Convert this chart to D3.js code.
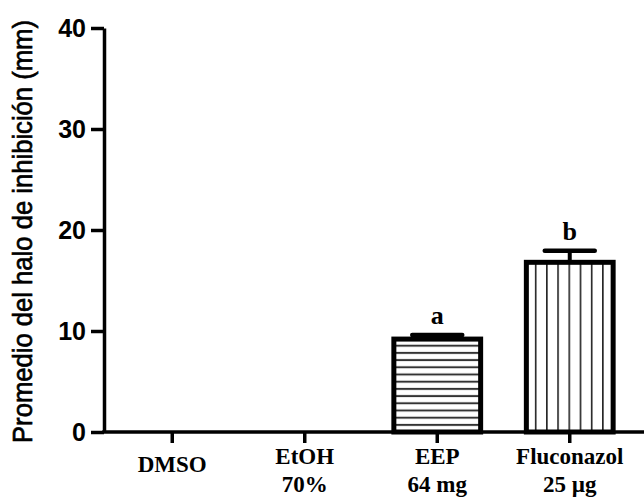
<!DOCTYPE html>
<html>
<head>
<meta charset="utf-8">
<script src="https://cdn.jsdelivr.net/npm/d3@7"></script>
<style>
  body { margin: 0; background: #fff; }
  svg { display: block; }
</style>
</head>
<body>
<div id="chart"></div>
<script>
// data
const categories = ["DMSO", "EtOH", "EEP", "Fluconazol"];
const catLine2   = ["", "70%", "64 mg", "25 µg"];
const means      = [0, 0, 9.2, 16.8];
const errors     = [0, 0, 0.4, 1.15];
const letters    = ["", "", "a", "b"];
const fills      = ["none", "none", "hlines", "vlines"];
const yTicks     = [0, 10, 20, 30, 40];
const yTitle     = "Promedio del halo de inhibición (mm)";

const W = 644, H = 498;
const cfg = { left: 104, top: 28, bottom: 432, right: 644 };

const rows = categories.map((c, i) => ({
  cat: c, line2: catLine2[i], mean: means[i], err: errors[i], letter: letters[i], fill: fills[i]
}));

const svg = d3.select("#chart").append("svg")
  .attr("width", W).attr("height", H)
  .attr("viewBox", [0, 0, W, H]);

const x = d3.scaleBand().domain(categories).range([106, 636]).padding(0);
const y = d3.scaleLinear().domain([0, 40]).range([cfg.bottom, cfg.top]);

const barW = x.bandwidth() * 0.655;
const barX = d => x(d.cat) + (x.bandwidth() - barW) / 2;
const cx = d => x(d.cat) + x.bandwidth() / 2;

// hatch patterns
const defs = svg.append("defs");
const hp = defs.append("pattern")
  .attr("id", "hlines")
  .attr("patternUnits", "userSpaceOnUse")
  .attr("width", 10).attr("height", 7.2)
  .attr("y", y(means[2]) + 3);
hp.append("rect").attr("width", 10).attr("height", 7.2).attr("fill", "#fff");
hp.append("rect").attr("y", 2.6).attr("width", 10).attr("height", 2).attr("fill", "#333");

const vp = defs.append("pattern")
  .attr("id", "vlines")
  .attr("patternUnits", "userSpaceOnUse")
  .attr("width", 11.2).attr("height", 10)
  .attr("x", barX(rows[3]) + 8.5);
vp.append("rect").attr("width", 11.2).attr("height", 10).attr("fill", "#fff");
vp.append("rect").attr("x", 0).attr("width", 1.6).attr("height", 10).attr("fill", "#222");

// bars (zero-height ones are not drawn)
const shown = rows.filter(d => d.mean > 0);

svg.append("g").attr("class", "bars")
  .selectAll("rect")
  .data(shown)
  .join("rect")
    .attr("x", barX)
    .attr("y", d => y(d.mean))
    .attr("width", barW)
    .attr("height", d => y(0) - y(d.mean))
    .attr("fill", d => `url(#${d.fill})`)
    .attr("stroke", "#000")
    .attr("stroke-width", 5);

// error bars
const eb = svg.append("g").attr("class", "errbars");
eb.selectAll("line.stem")
  .data(shown)
  .join("line")
    .attr("class", "stem")
    .attr("x1", cx).attr("x2", cx)
    .attr("y1", d => y(d.mean))
    .attr("y2", d => y(d.mean + d.err))
    .attr("stroke", "#000").attr("stroke-width", 4);
eb.selectAll("line.cap")
  .data(shown)
  .join("line")
    .attr("class", "cap")
    .attr("x1", d => cx(d) - 25).attr("x2", d => cx(d) + 25)
    .attr("y1", d => y(d.mean + d.err))
    .attr("y2", d => y(d.mean + d.err))
    .attr("stroke", "#000").attr("stroke-width", 4.5)
    .attr("stroke-linecap", "round");

// significance letters
svg.append("g")
  .selectAll("text")
  .data(shown)
  .join("text")
    .attr("x", cx)
    .attr("y", d => y(d.mean + d.err) - 11)
    .attr("text-anchor", "middle")
    .attr("font-family", "'Liberation Serif', 'Times New Roman', serif")
    .attr("font-weight", "bold")
    .attr("font-size", 26)
    .text(d => d.letter);

// y axis
const yAxis = svg.append("g")
  .attr("transform", `translate(${cfg.left},0)`)
  .call(d3.axisLeft(y).tickValues(yTicks).tickSize(13).tickPadding(5).tickSizeOuter(0));
yAxis.select(".domain").attr("stroke", "#000").attr("stroke-width", 3.5);
yAxis.selectAll(".tick line").attr("stroke", "#000").attr("stroke-width", 3.5);
yAxis.selectAll(".tick text")
  .attr("font-family", "'Liberation Sans', Arial, sans-serif")
  .attr("font-weight", "bold")
  .attr("font-size", 25)
  .attr("fill", "#000");

// x axis
const xAxis = svg.append("g")
  .attr("transform", `translate(0,${cfg.bottom})`)
  .call(d3.axisBottom(x).tickSize(11).tickSizeOuter(0).tickFormat(""));
xAxis.select(".domain").remove();
xAxis.append("line")
  .attr("x1", cfg.left - 1.75).attr("x2", cfg.right)
  .attr("stroke", "#000").attr("stroke-width", 3.5);
xAxis.selectAll(".tick line").attr("stroke", "#000").attr("stroke-width", 3.5);

// category labels, two lines where needed
const lab = svg.append("g")
  .attr("font-family", "'Liberation Serif', 'Times New Roman', serif")
  .attr("font-weight", "bold")
  .attr("font-size", 23)
  .attr("text-anchor", "middle");
lab.selectAll("text.l1")
  .data(rows)
  .join("text")
    .attr("class", "l1")
    .attr("x", cx)
    .attr("y", d => d.line2 ? 464 : 472)
    .text(d => d.cat);
lab.selectAll("text.l2")
  .data(rows.filter(d => d.line2))
  .join("text")
    .attr("class", "l2")
    .attr("x", cx)
    .attr("y", 492)
    .text(d => d.line2);

// y title (regular weight, slightly thickened like the scanned original)
svg.append("text")
  .attr("transform", "translate(32,231.5) rotate(-90) scale(1,1.12)")
  .attr("text-anchor", "middle")
  .attr("font-family", "'Liberation Sans', Arial, sans-serif")
  .attr("font-size", 25.5)
  .attr("stroke", "#000")
  .attr("stroke-width", 0.6)
  .attr("textLength", 423)
  .attr("lengthAdjust", "spacingAndGlyphs")
  .text(yTitle);
</script>
</body>
</html>
